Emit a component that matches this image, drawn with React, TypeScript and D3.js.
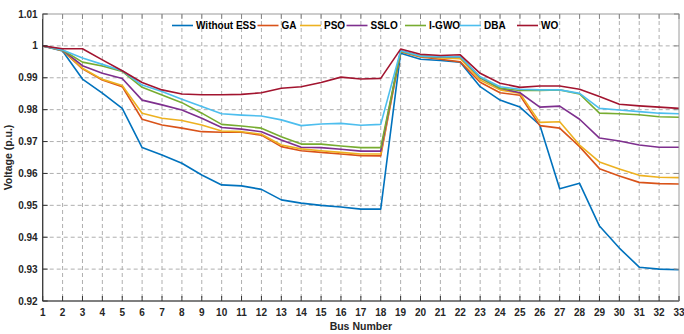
import * as d3 from "d3";

const buses = d3.range(1, 34);

const withoutESS = [1.0, 0.9984, 0.9896, 0.9852, 0.9804, 0.9681, 0.9658, 0.9632, 0.9595, 0.9564, 0.9561, 0.955, 0.9517, 0.9507, 0.95, 0.9495, 0.9488, 0.9488, 0.9977, 0.9958, 0.9954, 0.9949, 0.9872, 0.983, 0.9808, 0.9752, 0.9552, 0.9569, 0.9435, 0.9366, 0.9306, 0.93, 0.9298];
const ga = [1.0, 0.9986, 0.9928, 0.9893, 0.9872, 0.977, 0.9752, 0.9742, 0.9731, 0.9729, 0.9729, 0.972, 0.9684, 0.9671, 0.9666, 0.9661, 0.9656, 0.9655, 0.9982, 0.9965, 0.9958, 0.995, 0.9886, 0.9853, 0.9845, 0.975, 0.9742, 0.9684, 0.9615, 0.9592, 0.9572, 0.9568, 0.9567];
const pso = [1.0, 0.9986, 0.993, 0.9895, 0.9876, 0.9789, 0.9773, 0.9766, 0.9752, 0.9733, 0.9731, 0.9723, 0.9689, 0.9677, 0.9671, 0.9666, 0.9661, 0.9661, 0.9983, 0.9967, 0.9962, 0.996, 0.9893, 0.9862, 0.9851, 0.976, 0.9762, 0.9689, 0.9636, 0.9614, 0.9594, 0.9588, 0.9587];
const sslo = [1.0, 0.9987, 0.9938, 0.9914, 0.9898, 0.983, 0.9815, 0.9799, 0.9773, 0.9744, 0.9739, 0.9731, 0.9705, 0.9682, 0.9681, 0.9676, 0.967, 0.967, 0.9985, 0.9968, 0.9965, 0.9966, 0.99, 0.9867, 0.9853, 0.9808, 0.9811, 0.977, 0.9711, 0.9702, 0.9689, 0.9682, 0.9682];
const igwo = [1.0, 0.9987, 0.9949, 0.9937, 0.992, 0.987, 0.9846, 0.9822, 0.9789, 0.9754, 0.9749, 0.9742, 0.9715, 0.9692, 0.9692, 0.9686, 0.9681, 0.9681, 0.9983, 0.9968, 0.9966, 0.9966, 0.9901, 0.9867, 0.986, 0.986, 0.9862, 0.9849, 0.9789, 0.9787, 0.9784, 0.9778, 0.9776];
const dba = [1.0, 0.9987, 0.9962, 0.9942, 0.9922, 0.9877, 0.9857, 0.9833, 0.981, 0.9787, 0.9783, 0.978, 0.9768, 0.975, 0.9755, 0.9757, 0.9751, 0.9754, 0.9985, 0.9968, 0.9966, 0.9966, 0.9903, 0.9872, 0.9864, 0.9862, 0.9862, 0.9851, 0.9804, 0.9799, 0.9794, 0.9789, 0.9787];
const wo = [1.0, 0.9991, 0.9991, 0.9956, 0.9922, 0.9885, 0.9862, 0.9849, 0.9847, 0.9847, 0.9848, 0.9853, 0.9867, 0.9872, 0.9885, 0.9902, 0.9896, 0.9898, 0.999, 0.9974, 0.997, 0.9972, 0.9914, 0.9883, 0.987, 0.9874, 0.9874, 0.9864, 0.9841, 0.9817, 0.9812, 0.9808, 0.9804];

const seriesNames = ["Without ESS", "GA", "PSO", "SSLO", "I-GWO", "DBA", "WO"];
const seriesValues = [withoutESS, ga, pso, sslo, igwo, dba, wo];
const seriesColors = ["#0072BD", "#D95319", "#EDB120", "#7E2F8E", "#77AC30", "#4DBEEE", "#A2142F"];

const yTicks = [0.92, 0.93, 0.94, 0.95, 0.96, 0.97, 0.98, 0.99, 1, 1.01];

// legend item start x (layout only)
const legendX = [172, 257.5, 300, 346.5, 405, 460, 517];

const W = 684;
const H = 334;
const M = { left: 42.7, right: 5, top: 14, bottom: 33 };
const FONT = "'Liberation Sans', Arial, sans-serif";

export default function App() {
  const x = d3.scaleLinear().domain([1, 33]).range([M.left, W - M.right]);
  const y = d3.scaleLinear().domain([0.92, 1.01]).range([H - M.bottom, M.top]);
  const line = d3
    .line<number>()
    .x((_, i) => x(buses[i]))
    .y((d) => y(d));

  const [x0, x1] = x.range();
  const [y0, y1] = y.range();

  return (
    <svg
      width={W}
      height={H}
      style={{ position: "absolute", left: 0, top: 0, display: "block", background: "#fff" }}
      fontFamily={FONT}
    >
      {/* grid */}
      <g stroke="#a6a6a6" strokeWidth={0.9} strokeDasharray="4,3">
        {buses.slice(1, -1).map((b) => (
          <line key={"gx" + b} x1={x(b)} x2={x(b)} y1={y1} y2={y0} />
        ))}
        {yTicks.slice(1, -1).map((t) => (
          <line key={"gy" + t} x1={x0} x2={x1} y1={y(t)} y2={y(t)} />
        ))}
      </g>

      {/* series */}
      <g fill="none" strokeWidth={1.6} strokeLinejoin="round">
        {seriesValues.map((vals, i) => (
          <path key={seriesNames[i]} d={line(vals) ?? ""} stroke={seriesColors[i]} />
        ))}
      </g>

      {/* box and ticks */}
      <rect x={x0} y={y1} width={x1 - x0} height={y0 - y1} fill="none" stroke="#9a9a9a" strokeWidth={1} />
      <line x1={x0} x2={x0} y1={y1} y2={y0} stroke="#333" strokeWidth={1.2} />
      <line x1={x0} x2={x1} y1={y0} y2={y0} stroke="#333" strokeWidth={1.2} />
      <g stroke="#333" strokeWidth={1}>
        {buses.map((b) => (
          <g key={"tx" + b}>
            <line x1={x(b)} x2={x(b)} y1={y0} y2={y0 - 5} />
            <line x1={x(b)} x2={x(b)} y1={y1} y2={y1 + 5} stroke="#888" />
          </g>
        ))}
        {yTicks.map((t) => (
          <g key={"ty" + t}>
            <line x1={x0} x2={x0 + 5} y1={y(t)} y2={y(t)} />
            <line x1={x1} x2={x1 - 5} y1={y(t)} y2={y(t)} stroke="#888" />
          </g>
        ))}
      </g>

      {/* tick labels */}
      <g fontSize={10} fontWeight="bold" fill="#262626">
        {buses.map((b) => (
          <text key={"lx" + b} x={x(b)} y={y0 + 14.5} textAnchor="middle">
            {b}
          </text>
        ))}
        {yTicks.map((t) => (
          <text key={"ly" + t} x={x0 - 5} y={y(t) + 3.5} textAnchor="end">
            {d3.format("~g")(t)}
          </text>
        ))}
      </g>

      {/* axis titles */}
      <text x={(x0 + x1) / 2} y={330} textAnchor="middle" fontSize={10.5} fontWeight="bold" fill="#262626">
        Bus Number
      </text>
      <text
        transform={`translate(12,${(y0 + y1) / 2}) rotate(-90)`}
        textAnchor="middle"
        fontSize={10.5}
        fontWeight="bold"
        fill="#262626"
      >
        Voltage (p.u.)
      </text>

      {/* legend */}
      <g fontSize={10} fontWeight="bold" fill="#000">
        {seriesNames.map((n, i) => (
          <g key={"lg" + n} transform={`translate(${legendX[i]},25.5)`}>
            <line x1={0} x2={21} y1={0} y2={0} stroke={seriesColors[i]} strokeWidth={1.6} />
            <text x={24} y={3.6}>
              {n}
            </text>
          </g>
        ))}
      </g>
    </svg>
  );
}
